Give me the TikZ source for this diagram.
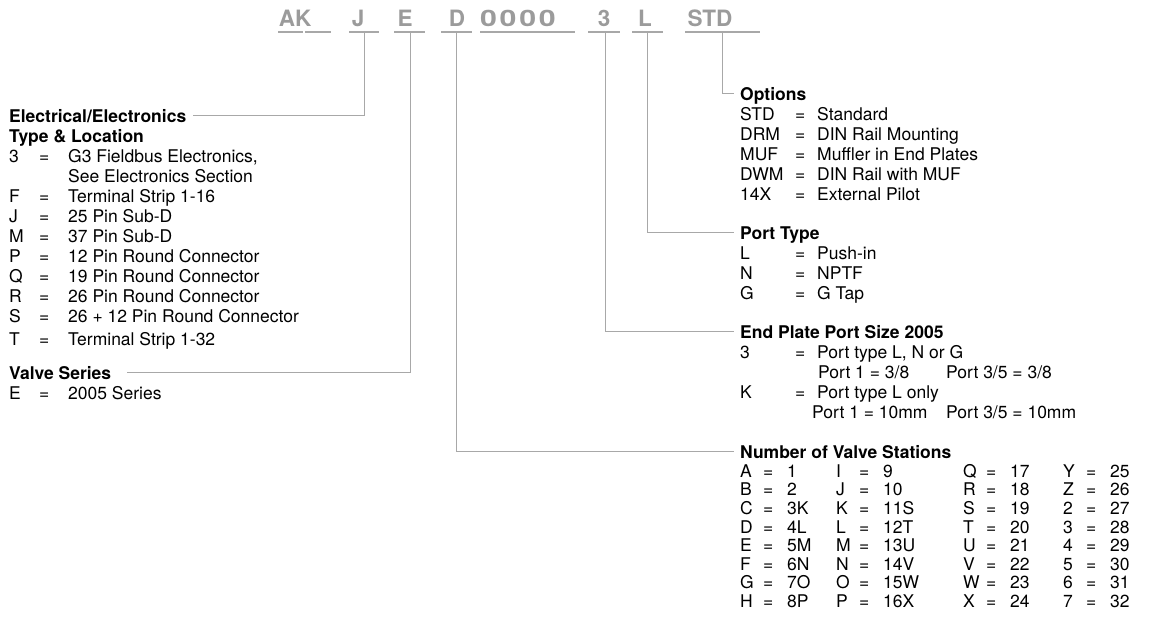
\documentclass[tikz,border=0pt]{standalone}
\usepackage{fontspec}
\setmainfont{TeX Gyre Heros}
\usepackage{graphicx}
\usepackage{tikz}
\usetikzlibrary{calc}
\definecolor{grisco}{HTML}{9B9B9B}
\definecolor{grisli}{HTML}{A8A8A8}
\newcommand{\filaizq}[2]{\makebox[30pt][l]{#1}\makebox[29pt][l]{=}#2}
\newcommand{\filader}[2]{\makebox[55pt][l]{#1}\makebox[22pt][l]{=}#2}
\newcommand{\est}[2]{\makebox[23pt][l]{#1}\makebox[24pt][l]{=}#2}

\begin{document}
\begin{tikzpicture}[x=1pt, y=-1pt,
        codigo/.style={font=\fontsize{22.5}{26}\selectfont\bfseries, text=grisco, inner sep=0pt, anchor=base},
        subrayado/.style={grisli, line width=1.1pt},
        guia/.style={grisli, line width=1pt},
        titulo/.style={font=\fontsize{17.5}{20}\selectfont\bfseries, align=left, inner sep=0pt, anchor=north west},
        lista/.style={font=\fontsize{17.5}{20}\selectfont, align=left, inner sep=0pt, anchor=north west},
        tabla/.style={font=\fontsize{17.5}{18.6}\selectfont, align=left, inner sep=0pt, anchor=north west}]
        \useasboundingbox (0,0) rectangle (1158,622);
        \node[codigo] (cak) at (295,26) {AK};
        \node[codigo] (cj) at (358,26) {J};
        \node[codigo] (ce) at (405,26) {E};
        \node[codigo] (cd) at (457,26) {D};
        \node[codigo] (cceros) at (518,26) {\scalebox{1.35}[1]{0\kern2pt0\kern2pt0\kern2pt0}};
        \node[codigo] (ctres) at (604,26) {3};
        \node[codigo] (cl) at (645,26) {L};
        \node[codigo] (cstd) at (710,26) {STD};
        \foreach \a/\b in {278/303, 305/331, 349/379, 394/425, 441/472, 480/575, 588/620, 632/663, 685/760}
            \draw[subrayado] (\a,32) -- (\b,32);
        \coordinate (uj) at (364,32);
        \coordinate (ue) at (410,32);
        \coordinate (ud) at (456,32);
        \coordinate (utres) at (605,32);
        \coordinate (ul) at (647,32);
        \coordinate (ustd) at (722,32);

        \node[titulo] (elec) at (9,108) {\strut Electrical/Electronics\\Type \& Location};
        \node[lista] (eleclista) at (9,148) {\strut\filaizq{3}{G3 Fieldbus Electronics,}\\
            \hspace*{59pt}See Electronics Section\\
            \filaizq{F}{Terminal Strip 1-16}\\
            \filaizq{J}{25 Pin Sub-D}\\
            \filaizq{M}{37 Pin Sub-D}\\
            \filaizq{P}{12 Pin Round Connector}\\
            \filaizq{Q}{19 Pin Round Connector}\\
            \filaizq{R}{26 Pin Round Connector}\\
            \filaizq{S}{26 + 12 Pin Round Connector}\\[3pt]
            \filaizq{T}{Terminal Strip 1-32}};
        \node[titulo] (serie) at (9,365) {\strut Valve Series};
        \node[lista] (serielista) at (9,385) {\strut\filaizq{E}{2005 Series}};

        \node[lista] (opc) at (740,86) {\strut\textbf{Options}\\
            \filader{STD}{Standard}\\
            \filader{DRM}{DIN Rail Mounting}\\
            \filader{MUF}{Muffler in End Plates}\\
            \filader{DWM}{DIN Rail with MUF}\\
            \filader{14X}{External Pilot}};
        \node[lista] (puerto) at (740,225) {\strut\textbf{Port Type}\\
            \filader{L}{Push-in}\\
            \filader{N}{NPTF}\\
            \filader{G}{G Tap}};
        \node[lista] (placa) at (740,324) {\strut\textbf{End Plate Port Size 2005}\\
            \filader{3}{Port type L, N or G}\\
            \hspace*{78pt}\makebox[128pt][l]{Port 1 = 3/8}Port 3/5 = 3/8\\
            \filader{K}{Port type L only}\\
            \hspace*{72pt}\makebox[134pt][l]{Port 1 = 10mm}Port 3/5 = 10mm};
        \node[titulo] (estac) at (740,444) {\strut Number of Valve Stations};
        \node[tabla] (col1) at (740,464) {\strut\est{A}{1}\\ \est{B}{2}\\ \est{C}{3K}\\ \est{D}{4L}\\ \est{E}{5M}\\ \est{F}{6N}\\ \est{G}{7O}\\ \est{H}{8P}};
        \node[tabla] (col2) at (836,464) {\strut\est{I}{9}\\ \est{J}{10}\\ \est{K}{11S}\\ \est{L}{12T}\\ \est{M}{13U}\\ \est{N}{14V}\\ \est{O}{15W}\\ \est{P}{16X}};
        \node[tabla] (col3) at (963,464) {\strut\est{Q}{17}\\ \est{R}{18}\\ \est{S}{19}\\ \est{T}{20}\\ \est{U}{21}\\ \est{V}{22}\\ \est{W}{23}\\ \est{X}{24}};
        \node[tabla] (col4) at (1063,464) {\strut\est{Y}{25}\\ \est{Z}{26}\\ \est{2}{27}\\ \est{3}{28}\\ \est{4}{29}\\ \est{5}{30}\\ \est{6}{31}\\ \est{7}{32}};

        \draw[guia] (uj) |- ([shift={(7pt,-7pt)}]elec.north east);
        \draw[guia] (ue) |- ([shift={(16pt,-7pt)}]serie.north east);
        \draw[guia] (ud) |- ([shift={(-6pt,-7pt)}]estac.north west);
        \draw[guia] (utres) |- ([shift={(-6pt,-7pt)}]placa.north west);
        \draw[guia] (ul) |- ([shift={(-6pt,-7pt)}]puerto.north west);
        \draw[guia] (ustd) |- ([shift={(-6pt,-7pt)}]opc.north west);
    \end{tikzpicture}
\end{document}
